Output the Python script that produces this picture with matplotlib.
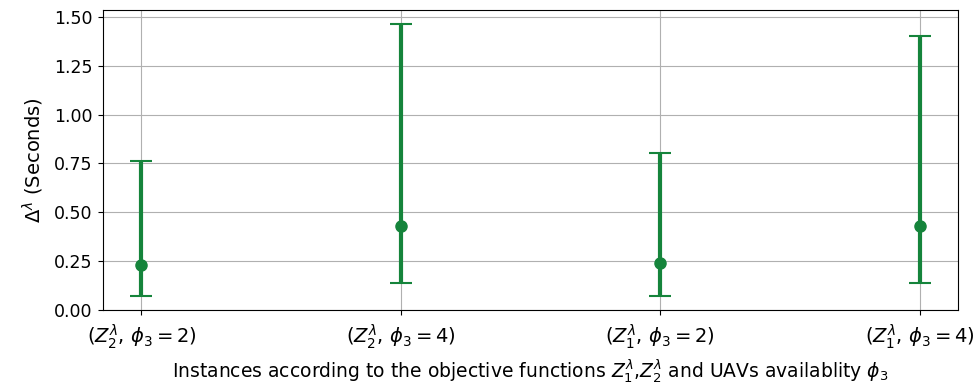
import matplotlib
matplotlib.use('Agg')
import matplotlib.pyplot as plt

# vrednosti odcitane s slike
instance = [r'($Z_2^{\lambda}$, $\phi_3=2$)', r'($Z_2^{\lambda}$, $\phi_3=4$)',
            r'($Z_1^{\lambda}$, $\phi_3=2$)', r'($Z_1^{\lambda}$, $\phi_3=4$)']
povprecje = [0.23, 0.43, 0.24, 0.43]
spodaj = [0.072, 0.138, 0.072, 0.138]
zgoraj = [0.763, 1.464, 0.804, 1.403]

barva = '#15843b'

fig = plt.figure(figsize=(9.77, 3.92), dpi=100)
ax = fig.add_axes([0.105, 0.209, 0.876, 0.765])

x = list(range(len(instance)))
napaka = [[p - s for p, s in zip(povprecje, spodaj)],
          [z - p for p, z in zip(povprecje, zgoraj)]]
ax.errorbar(x, povprecje, yerr=napaka, fmt='o', color=barva, ecolor=barva,
            elinewidth=3, capsize=8, capthick=1.5, markersize=8)

ax.set_xticks(x)
ax.set_xticklabels(instance, fontsize=14)
ax.tick_params(axis='x', pad=5)
ax.set_yticks([0, 0.25, 0.5, 0.75, 1.0, 1.25, 1.5])
ax.set_yticklabels(['0.00', '0.25', '0.50', '0.75', '1.00', '1.25', '1.50'], fontsize=12.5)
ax.set_ylim(bottom=0)
ax.grid(True, color='#b0b0b0', linewidth=0.8)
ax.set_axisbelow(True)
ax.set_ylabel(r'$\Delta^{\lambda}$ (Seconds)', fontsize=14, labelpad=6)
ax.set_xlabel(r'Instances according to the objective functions $Z_1^{\lambda}$,$Z_2^{\lambda}$ and UAVs availablity $\phi_3$',
              fontsize=13.5, labelpad=5)

plt.savefig('out.png')
